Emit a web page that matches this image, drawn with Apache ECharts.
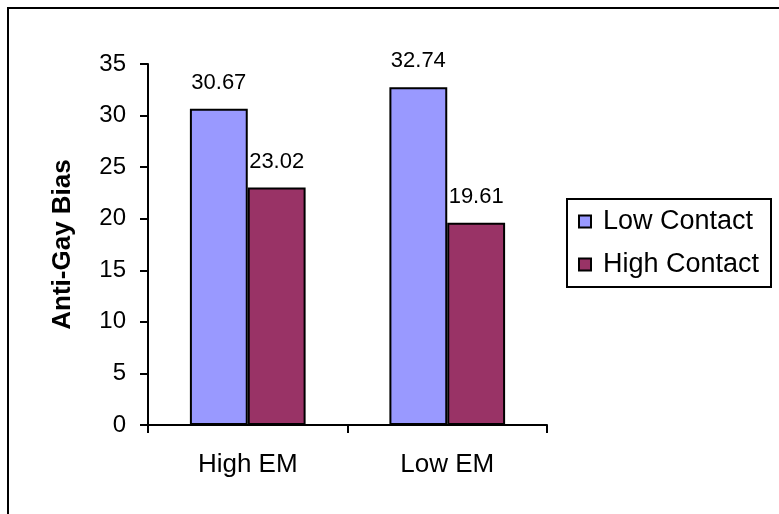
<!DOCTYPE html>
<html>
<head>
<meta charset="utf-8">
<script src="https://cdn.jsdelivr.net/npm/echarts@6/dist/echarts.min.js"></script>
<style>html,body{margin:0;padding:0;background:#fff}#c{width:779px;height:514px}</style>
</head>
<body>
<div id="c"></div>
<script>
const categories = ['High EM', 'Low EM'];
const seriesNames = ['Low Contact', 'High Contact'];
const lowContact = [30.67, 32.74];
const highContact = [23.02, 19.61];
const yTicks = [0, 5, 10, 15, 20, 25, 30, 35];
const yAxisTitle = 'Anti-Gay Bias';

const chart = echarts.init(document.getElementById('c'), null, {renderer: 'canvas'});
const font = 'Liberation Sans, Arial, sans-serif';
const lbl = {
  show: true, position: 'top', distance: 15, color: '#000',
  fontFamily: font, fontSize: 22,
  formatter: p => p.value.toFixed(2)
};
chart.setOption({
  animation: false,
  backgroundColor: '#fff',
  graphic: [
    {type: 'rect', shape: {x: 8, y: 8, width: 800, height: 600}, style: {fill: 'none', stroke: '#000', lineWidth: 2}},
    {type: 'rect', shape: {x: 567, y: 199, width: 204, height: 88}, style: {fill: 'none', stroke: '#000', lineWidth: 2}}
  ],
  grid: {left: 148, right: 232, top: 64, bottom: 89},
  legend: {
    orient: 'vertical', left: 567, top: 199, padding: [9, 0, 0, 11],
    itemWidth: 12, itemHeight: 12, itemGap: 16, icon: 'rect',
    textStyle: {fontFamily: font, fontSize: 27, color: '#000', padding: [0, 0, 0, 7]},
    data: seriesNames
  },
  xAxis: {
    type: 'category', data: categories,
    axisLine: {lineStyle: {color: '#000', width: 2}},
    axisTick: {show: true, length: 8, lineStyle: {color: '#000', width: 2}},
    axisLabel: {color: '#000', fontFamily: font, fontSize: 26, margin: 27}
  },
  yAxis: {
    type: 'value', min: yTicks[0], max: yTicks[yTicks.length - 1], interval: 5,
    name: yAxisTitle, nameLocation: 'middle', nameGap: 72, nameRotate: 90,
    nameTextStyle: {fontFamily: font, fontSize: 26, fontWeight: 'bold', color: '#000'},
    axisLine: {show: true, lineStyle: {color: '#000', width: 2}},
    axisTick: {show: true, length: 8, lineStyle: {color: '#000', width: 2}},
    axisLabel: {color: '#000', fontFamily: font, fontSize: 24, margin: 22},
    splitLine: {show: false}
  },
  series: [
    {name: seriesNames[0], type: 'bar', data: lowContact, barGap: '0%', barCategoryGap: '42%',
     itemStyle: {color: '#9999FF', borderColor: '#000', borderWidth: 2}, label: lbl},
    {name: seriesNames[1], type: 'bar', data: highContact,
     itemStyle: {color: '#993366', borderColor: '#000', borderWidth: 2}, label: lbl}
  ]
});
</script>
</body>
</html>
